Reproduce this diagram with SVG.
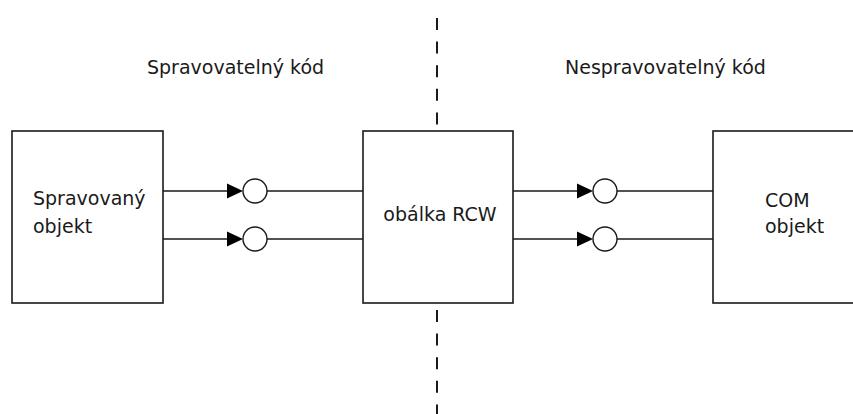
<svg xmlns="http://www.w3.org/2000/svg" width="853" height="414" viewBox="0 0 853 414">
<style>
.box{fill:#fff;stroke:#1a1a1a;stroke-width:1.6}
.ln{stroke:#1a1a1a;stroke-width:1.6;fill:none}
.dash{stroke:#1a1a1a;stroke-width:2;stroke-dasharray:12 11.6;fill:none}
.ah{fill:#000}
.ci{fill:#fff;stroke:#1a1a1a;stroke-width:1.4}
text{font-family:"DejaVu Sans",sans-serif;font-size:19px;fill:#1a1a1a}
</style>
<rect width="853" height="414" fill="#fff"/>
<g id="divider">
<line class="dash" x1="437" y1="18" x2="437" y2="131"/>
<line class="dash" x1="437" y1="310" x2="437" y2="414"/>
</g>
<text id="label-managed" x="147" y="74">Spravovatelný kód</text>
<text id="label-unmanaged" x="565" y="74">Nespravovatelný kód</text>
<g id="connectors">
<line class="ln" x1="163" y1="191" x2="228" y2="191"/>
<line class="ln" x1="267" y1="191" x2="363" y2="191"/>
<line class="ln" x1="163" y1="239" x2="228" y2="239"/>
<line class="ln" x1="267" y1="239" x2="363" y2="239"/>
<polygon class="ah" points="227,183.5 243,191 227,198.5"/>
<polygon class="ah" points="227,231.5 243,239 227,246.5"/>
<circle class="ci" cx="255" cy="191" r="12"/>
<circle class="ci" cx="255" cy="239" r="12"/>
<line class="ln" x1="513" y1="191" x2="578" y2="191"/>
<line class="ln" x1="617" y1="191" x2="713" y2="191"/>
<line class="ln" x1="513" y1="239" x2="578" y2="239"/>
<line class="ln" x1="617" y1="239" x2="713" y2="239"/>
<polygon class="ah" points="577,183.5 593,191 577,198.5"/>
<polygon class="ah" points="577,231.5 593,239 577,246.5"/>
<circle class="ci" cx="605" cy="191" r="12"/>
<circle class="ci" cx="605" cy="239" r="12"/>
</g>
<g id="managed-object">
<rect class="box" x="12" y="131" width="151" height="172"/>
<text x="33" y="205">Spravovaný</text>
<text x="33" y="233">objekt</text>
</g>
<g id="rcw">
<rect class="box" x="363" y="131" width="150" height="172"/>
<text x="440" y="221" text-anchor="middle">obálka RCW</text>
</g>
<g id="com-object">
<rect class="box" x="713" y="131" width="160" height="172"/>
<text x="765" y="207">COM</text>
<text x="765" y="233">objekt</text>
</g>
</svg>
